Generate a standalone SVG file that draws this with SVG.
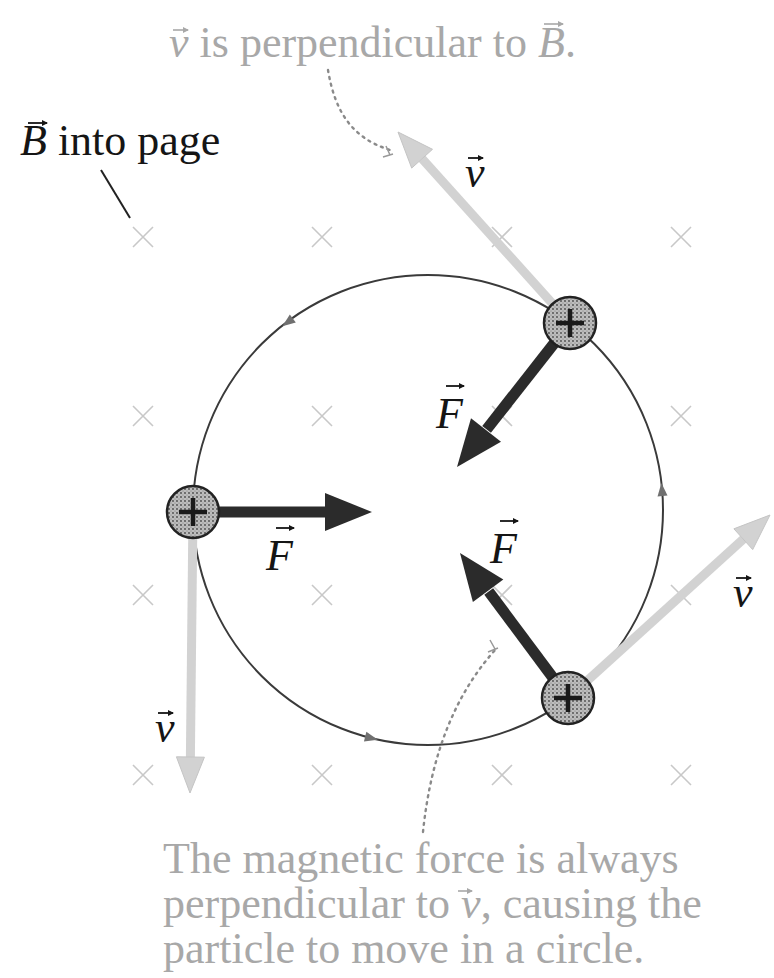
<svg xmlns="http://www.w3.org/2000/svg" width="774" height="978" viewBox="0 0 774 978">
<defs>
<style>
.lbl{font-family:"Liberation Serif","Times New Roman",serif;}
.gray{fill:#a8a8a8;font-size:44px;}
.dark{fill:#151515;font-size:44px;}
.it{font-style:italic;}
.cross{stroke:#c8c8c8;stroke-width:1.6;fill:none;}
.vsh{stroke:#d2d2d2;stroke-width:9;fill:none;}
.vhd{fill:#d2d2d2;stroke:#c4c4c4;stroke-width:1;}
.fsh{stroke:#2b2b2b;stroke-width:11;fill:none;}
.fhd{fill:#2b2b2b;}
.dots{stroke:#8a8a8a;stroke-width:2.4;fill:none;stroke-dasharray:2 5;stroke-linecap:round;}
.vecd{stroke:#151515;stroke-width:1.8;fill:none;marker-end:url(#vk);}
.vecg{stroke:#a8a8a8;stroke-width:1.6;fill:none;marker-end:url(#vkg);}
.orbit{stroke:#3a3a3a;stroke-width:2;fill:none;}
.ohd{fill:#707070;}
.pbody{fill:url(#stip);stroke:#222;stroke-width:2.5;}
.plus{stroke:#1a1a1a;stroke-width:4.5;}
</style>
<pattern id="stip" width="4" height="4" patternUnits="userSpaceOnUse">
<rect width="4" height="4" fill="#bdbdbd"/>
<circle cx="1" cy="1" r="0.9" fill="#4a4a4a"/>
<circle cx="3" cy="3" r="0.6" fill="#7a7a7a"/>
</pattern>
<marker id="vk" markerWidth="6" markerHeight="6" refX="5" refY="3" orient="auto" markerUnits="userSpaceOnUse">
<path d="M0,0 L6,3 L0,6 z" fill="#151515"/>
</marker>
<marker id="vkg" markerWidth="6" markerHeight="6" refX="5" refY="3" orient="auto" markerUnits="userSpaceOnUse">
<path d="M0,0 L6,3 L0,6 z" fill="#a8a8a8"/>
</marker>
</defs>
<rect width="774" height="978" fill="#ffffff"/>

<g id="field-grid">
<path class="cross" d="M133,227 l20,20 M153,227 l-20,20 M312,227 l20,20 M332,227 l-20,20 M492,227 l20,20 M512,227 l-20,20 M671,227 l20,20 M691,227 l-20,20"/>
<path class="cross" d="M133,406 l20,20 M153,406 l-20,20 M312,406 l20,20 M332,406 l-20,20 M492,406 l20,20 M512,406 l-20,20 M671,406 l20,20 M691,406 l-20,20"/>
<path class="cross" d="M133,585 l20,20 M153,585 l-20,20 M312,585 l20,20 M332,585 l-20,20 M492,585 l20,20 M512,585 l-20,20 M671,585 l20,20 M691,585 l-20,20"/>
<path class="cross" d="M133,765 l20,20 M153,765 l-20,20 M312,765 l20,20 M332,765 l-20,20 M492,765 l20,20 M512,765 l-20,20 M671,765 l20,20 M691,765 l-20,20"/>
</g>

<g id="orbit">
<circle class="orbit" cx="428" cy="510" r="235"/>
<polygon class="ohd" points="7,0 -6,-5 -6,5" transform="translate(288,322) rotate(143.3)"/>
<polygon class="ohd" points="7,0 -6,-5 -6,5" transform="translate(371,738) rotate(14)"/>
<polygon class="ohd" points="7,0 -6,-5 -6,5" transform="translate(662,490) rotate(-94.9)"/>
</g>

<g id="connectors">
<line x1="101" y1="170" x2="130" y2="218" stroke="#222" stroke-width="2"/>
<path class="dots" d="M328,70 C335,112 352,138 390,150"/>
<path d="M386,146 l4,9 M383,157 l10,-3" stroke="#999" stroke-width="1.5" fill="none"/>
<path class="dots" d="M423,832 Q435,715 497,648"/>
<path d="M490,640 l5,9 M488,652 l10,-4" stroke="#999" stroke-width="1.5" fill="none"/>
</g>

<g id="velocity-vectors">
<line class="vsh" x1="552.6" y1="303.7" x2="422.1" y2="158.7"/>
<polygon class="vhd" points="398,132 432.5,149.3 411.7,168.1"/>
<line class="vsh" x1="587.3" y1="680.6" x2="743.3" y2="539.2"/>
<polygon class="vhd" points="770,515 752.7,549.6 733.9,528.8"/>
<line class="vsh" x1="192.7" y1="538" x2="190.4" y2="757"/>
<polygon class="vhd" points="190,793 204.4,757.2 176.4,756.8"/>
</g>

<g id="force-vectors">
<line class="fsh" x1="219" y1="512" x2="326" y2="512"/>
<polygon class="fhd" points="372,512 325,493 325,531"/>
<line class="fsh" x1="554" y1="343.5" x2="486.6" y2="429.3"/>
<polygon class="fhd" points="457,467 501,441.7 471,418.3"/>
<line class="fsh" x1="552.5" y1="677.1" x2="488.7" y2="591.5"/>
<polygon class="fhd" points="460,553 503.3,579.4 472.9,602"/>
</g>

<g id="particle-left">
<circle class="pbody" cx="193" cy="512" r="26"/>
<path class="plus" d="M179,512 h28 M193,498 v28"/>
</g>
<g id="particle-top">
<circle class="pbody" cx="570" cy="323" r="26"/>
<path class="plus" d="M556,323 h28 M570,309 v28"/>
</g>
<g id="particle-bottom">
<circle class="pbody" cx="568" cy="698" r="26"/>
<path class="plus" d="M554,698 h28 M568,684 v28"/>
</g>

<g id="label-B">
<text class="lbl dark" x="20" y="155"><tspan class="it">B</tspan> into page</text>
<path class="vecd" d="M28,123 h19"/>
</g>

<g id="label-top">
<text class="lbl gray" x="169" y="57"><tspan class="it">v</tspan> is perpendicular to <tspan class="it">B</tspan>.</text>
<path class="vecg" d="M173,30 h15"/>
<path class="vecg" d="M544,24 h19"/>
</g>

<g id="label-v-top">
<text class="lbl dark it" x="465" y="187">v</text>
<path class="vecd" d="M468,158 h15"/>
</g>
<g id="label-v-right">
<text class="lbl dark it" x="733" y="607">v</text>
<path class="vecd" d="M736,578 h15"/>
</g>
<g id="label-v-left">
<text class="lbl dark it" x="155" y="742">v</text>
<path class="vecd" d="M158,713 h15"/>
</g>

<g id="label-F-left">
<text class="lbl dark it" x="266" y="570">F</text>
<path class="vecd" d="M276,528 h18"/>
</g>
<g id="label-F-top">
<text class="lbl dark it" x="436" y="428">F</text>
<path class="vecd" d="M446,386 h18"/>
</g>
<g id="label-F-bottom">
<text class="lbl dark it" x="490" y="563">F</text>
<path class="vecd" d="M500,521 h18"/>
</g>

<g id="label-bottom">
<text class="lbl gray" x="163" y="873">The magnetic force is always</text>
<text class="lbl gray" x="163" y="918">perpendicular to <tspan class="it">v</tspan>, causing the</text>
<text class="lbl gray" x="163" y="963">particle to move in a circle.</text>
<path class="vecg" d="M458,891 h14"/>
</g>
</svg>
